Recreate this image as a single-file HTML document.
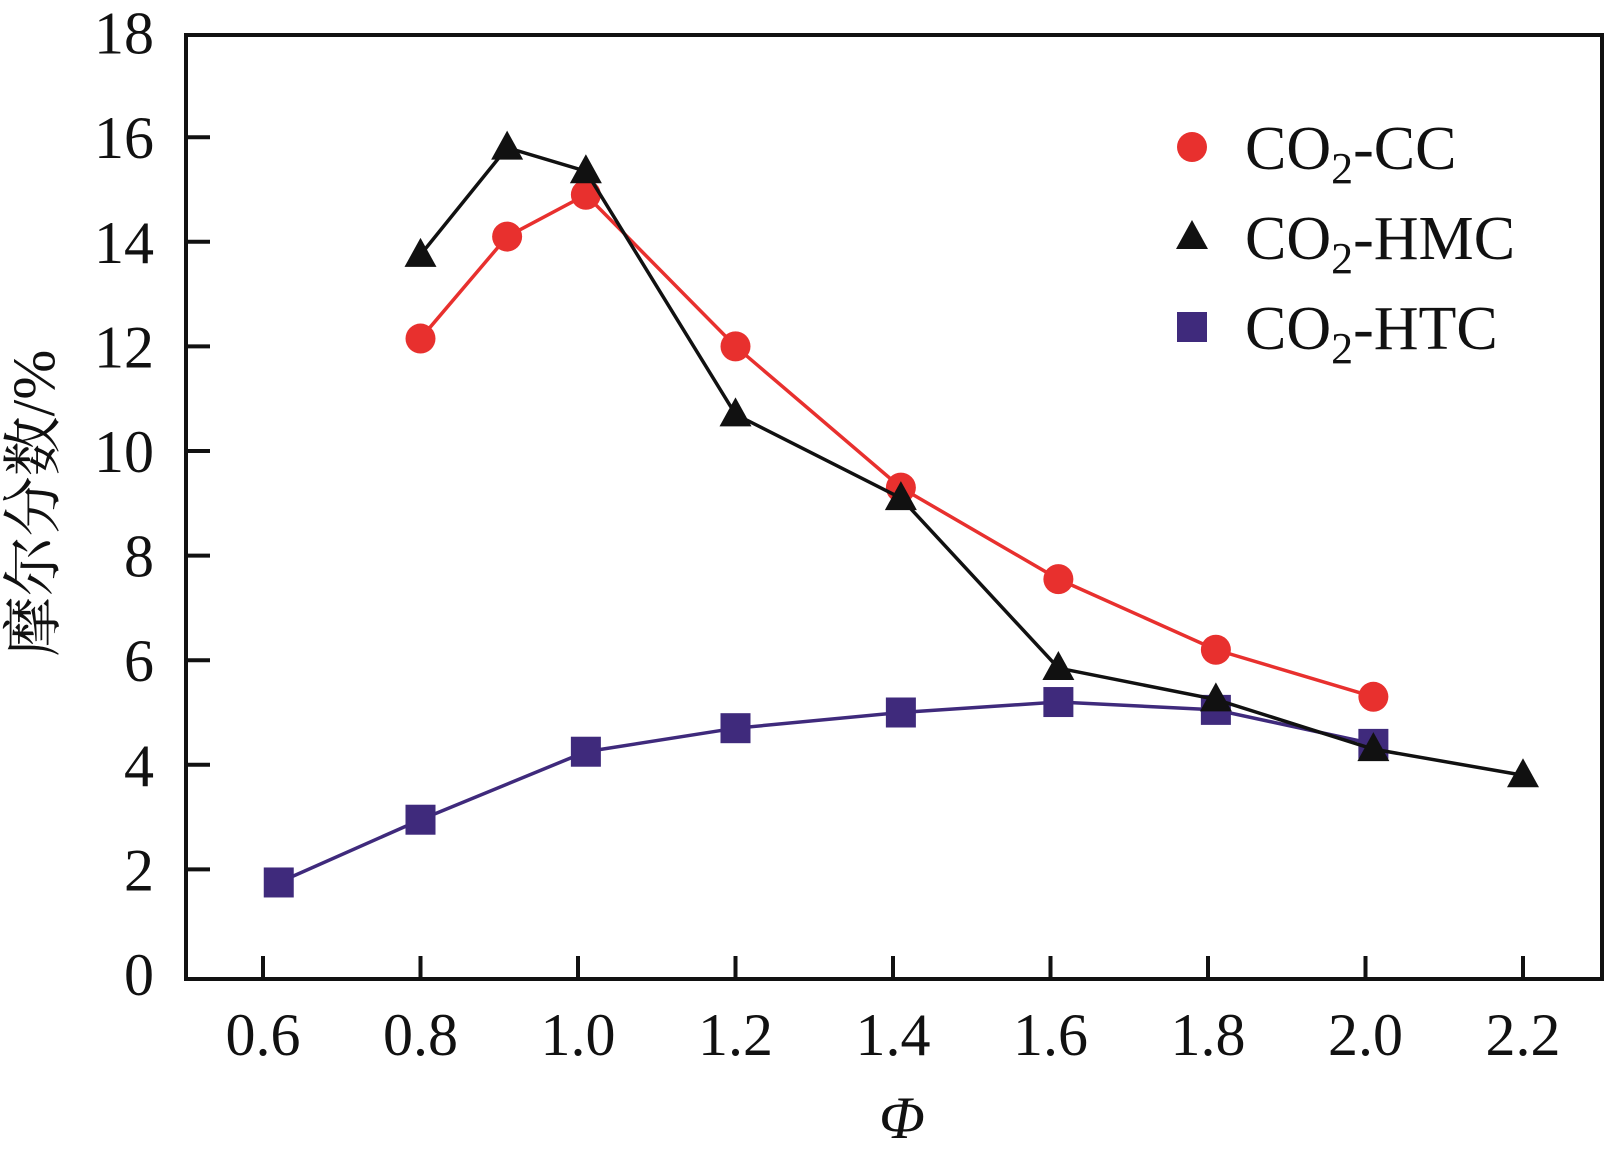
<!DOCTYPE html>
<html><head><meta charset="utf-8"><style>
html,body{margin:0;padding:0;background:#fff;}
svg{display:block;font-family:"Liberation Serif","Noto Serif CJK SC",serif;}
</style></head><body>
<svg id="chart" width="1606" height="1165" viewBox="0 0 1606 1165" xmlns="http://www.w3.org/2000/svg"></svg>
<script>
const xTicks = [0.6, 0.8, 1.0, 1.2, 1.4, 1.6, 1.8, 2.0, 2.2];
const xTickLabels = ["0.6","0.8","1.0","1.2","1.4","1.6","1.8","2.0","2.2"];
const yTicks = [0, 2, 4, 6, 8, 10, 12, 14, 16, 18];
const yTickLabels = ["0","2","4","6","8","10","12","14","16","18"];
const ccX = [0.8, 0.91, 1.01, 1.2, 1.41, 1.61, 1.81, 2.01];
const ccY = [12.15, 14.1, 14.9, 12.0, 9.3, 7.55, 6.2, 5.3];
const hmcX = [0.8, 0.91, 1.01, 1.2, 1.41, 1.61, 1.81, 2.01, 2.2];
const hmcY = [13.75, 15.8, 15.35, 10.7, 9.1, 5.85, 5.25, 4.3, 3.8];
const htcX = [0.62, 0.8, 1.01, 1.2, 1.41, 1.61, 1.81, 2.01];
const htcY = [1.75, 2.95, 4.25, 4.7, 5.0, 5.2, 5.05, 4.4];

const NS = "http://www.w3.org/2000/svg";
const svg = document.getElementById("chart");
const L = 186, R = 1602, T = 35, B = 979;
const sx = v => 263 + (v - 0.6) * 787.5;
const sy = v => 974 - v * 52.3;
function mk(tag, attrs, parent) {
  const e = document.createElementNS(NS, tag);
  for (const k in attrs) e.setAttribute(k, attrs[k]);
  (parent || svg).appendChild(e);
  return e;
}
const frame = mk("rect", {x: L, y: T, width: R - L, height: B - T, fill: "none", stroke: "#111", "stroke-width": 4});


xTicks.forEach((v, i) => {
  const t = mk("line", {x1: sx(v), x2: sx(v), y1: B, y2: B - 23, stroke: "#111", "stroke-width": 4});
  
  
  const lb = mk("text", {x: sx(v), y: 1055, "text-anchor": "middle", "font-size": 60, fill: "#111"});
  lb.textContent = xTickLabels[i];
  
  
});
yTicks.forEach((v, i) => {
  if (v > 0 && v < 18) {
    const t = mk("line", {x1: L, x2: L + 24, y1: sy(v), y2: sy(v), stroke: "#111", "stroke-width": 4});
    
    
  }
  const lb = mk("text", {x: 154, y: sy(v) + 21, "text-anchor": "end", "font-size": 60, fill: "#111"});
  lb.textContent = yTickLabels[i];
  
  
});
const yt = mk("text", {x: 0, y: 0, transform: "translate(54,503) rotate(-90)", "text-anchor": "middle", "font-size": 60, fill: "#111"});
yt.textContent = "摩尔分数/%";


const xt = mk("text", {x: 902, y: 1138, "text-anchor": "middle", "font-size": 60, "font-style": "italic", fill: "#111"});
xt.textContent = "Φ";



function marker(kind, cx, cy, color, name) {
  let m;
  if (kind === "circle") m = mk("circle", {cx, cy, r: 15, fill: color});
  else if (kind === "tri") m = mk("polygon", {points: `${cx},${cy-17} ${cx-16},${cy+12} ${cx+16},${cy+12}`, fill: color});
  else m = mk("rect", {x: cx - 15, y: cy - 15, width: 30, height: 30, fill: color});
  
  
}
function series(xs, ys, color, kind, name) {
  const pts = xs.map((x, i) => sx(x) + "," + sy(ys[i])).join(" ");
  const pl = mk("polyline", {points: pts, fill: "none", stroke: color, "stroke-width": 3.5});
  
  
  xs.forEach((x, i) => marker(kind, sx(x), sy(ys[i]), color, name + '-point'));
}
series(htcX, htcY, "#3f2a7c", "rect", "co2-htc");
series(ccX, ccY, "#e8302e", "circle", "co2-cc");
series(hmcX, hmcY, "#111", "tri", "co2-hmc");

const leg = [["circle", "#e8302e", "CC", 147], ["tri", "#111", "HMC", 237], ["rect", "#3f2a7c", "HTC", 327]];
leg.forEach(([k, c, lab, y]) => {
  marker(k, 1192, y, c, 'legend-marker');
  const t = mk("text", {x: 1245, y: y + 22, "font-size": 62, fill: "#111"});
  
  
  const a = mk("tspan", {}, t); a.textContent = "CO";
  const b = mk("tspan", {dy: 14, "font-size": 44}, t); b.textContent = "2";
  const d = mk("tspan", {dy: -14}, t); d.textContent = "-" + lab;
});
</script>
</body></html>
